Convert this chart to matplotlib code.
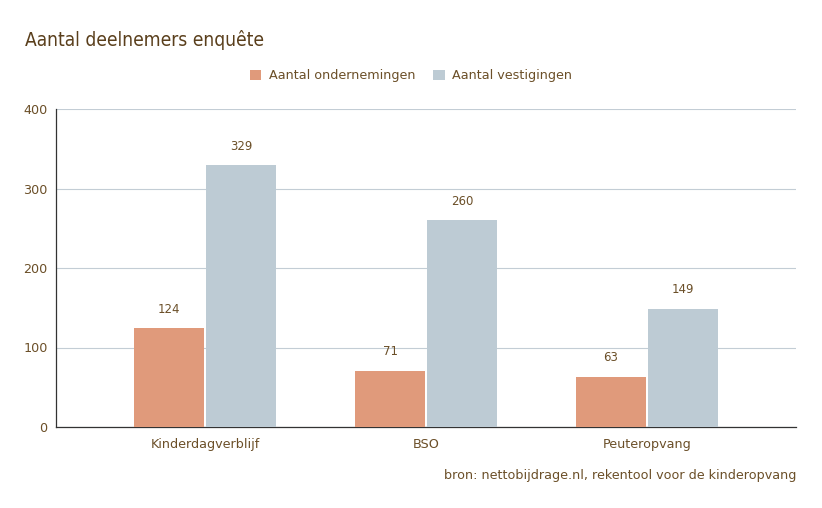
import matplotlib
matplotlib.use("Agg")
import matplotlib.pyplot as plt
import numpy as np

categories = ["Kinderdagverblijf", "BSO", "Peuteropvang"]
ondernemingen = [124, 71, 63]
vestigingen = [329, 260, 149]
series_names = ["Aantal ondernemingen", "Aantal vestigingen"]
yticks = [0, 100, 200, 300, 400]

plt.rcParams['font.family'] = ['DejaVu Sans']
txt = "#6b4f28"
c1 = "#e09a7b"
c2 = "#bdcbd4"

fig = plt.figure(figsize=(8.22, 5.08), dpi=100)
ax = fig.add_axes([56/822, 1-427/508, 740/822, 318/508])

x = np.arange(len(categories))
w = 70/221
off = 36/221
b1 = ax.bar(x - off, ondernemingen, w, color=c1, label=series_names[0], zorder=3)
b2 = ax.bar(x + off, vestigingen, w, color=c2, label=series_names[1], zorder=3)
for bars in (b1, b2):
    for r in bars:
        ax.annotate(f"{int(r.get_height())}", (r.get_x()+r.get_width()/2, r.get_height()),
                    xytext=(0, 19), textcoords="offset pixels", ha="center", va="center",
                    fontsize=8.5, color=txt)

ax.set_xlim(-149/221, 2 + 149/221)
ax.set_ylim(0, 400)
ax.set_yticks(yticks)
ax.set_xticks(x)
ax.set_xticklabels(categories)
ax.yaxis.grid(True, color="#c3cdd5", linewidth=0.8, zorder=0)
for s in ["top", "right"]:
    ax.spines[s].set_visible(False)
ax.spines["left"].set_color("#333333")
ax.spines["bottom"].set_color("#333333")
ax.spines["left"].set_linewidth(0.9)
ax.spines["bottom"].set_linewidth(0.9)
ax.tick_params(axis="both", length=0, colors=txt, labelsize=9.2, pad=6)
ax.tick_params(axis="x", pad=8)

fig.text(25/822, 1-40/508, "Aantal deelnemers enquête", fontsize=13.8, color="#5a3f1c", va="center", ha="left",
         family="DejaVu Sans", fontstretch="condensed")
leg = fig.legend(handles=[b1, b2], labels=series_names, loc="center", bbox_to_anchor=(411/822, 1-76/508),
                 ncol=2, frameon=False, fontsize=9.2, labelcolor=txt, handlelength=0.9, handleheight=0.9,
                 handletextpad=0.6, columnspacing=1.4)
fig.text(796/822, 1-476/508, "bron: nettobijdrage.nl, rekentool voor de kinderopvang", fontsize=9.2,
         color=txt, ha="right", va="center")

fig.savefig("out.png", dpi=100)
